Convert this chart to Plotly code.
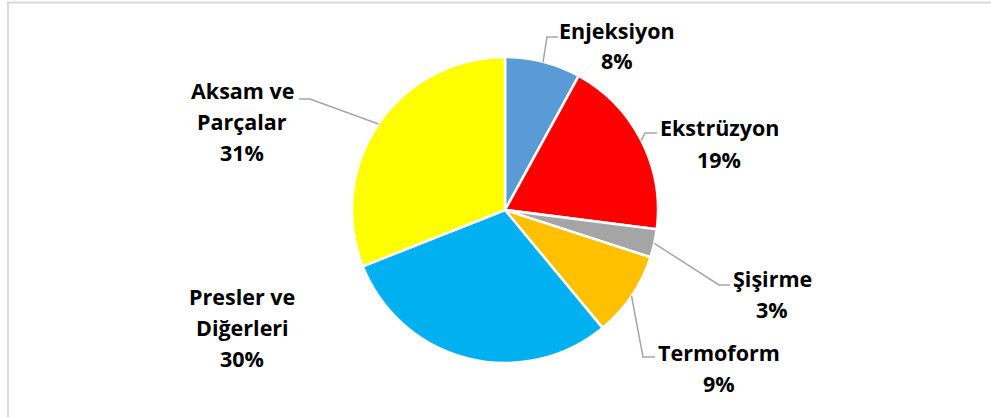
import math
import plotly.graph_objects as go

W, H = 991, 417

labels = ["Enjeksiyon", "Ekstrüzyon", "Şişirme", "Termoform", "Presler ve Diğerleri", "Aksam ve Parçalar"]
values = [8, 19, 3, 9, 30, 31]
colors = ["#5B9BD5", "#FF0000", "#A5A5A5", "#FFC000", "#00B0F0", "#FFFF00"]
# label text lines (name lines, then percent)
label_lines = [
    ["Enjeksiyon"],
    ["Ekstrüzyon"],
    ["Şişirme"],
    ["Termoform"],
    ["Presler ve", "Diğerleri"],
    ["Aksam ve", "Parçalar"],
]

# layout: pie geometry (pixels)
CX, CY, R = 505, 210, 153
# label block centres (x, y of first line) and line spacing
label_pos = [(617, 30), (719, 128), (772, 278), (719, 352), (242, 296), (242, 91)]
LINE_H = 31
# leader line elbows: (elbow point, end point) or None
leaders = [
    ((547, 37), (558, 37)),
    ((645, 133), (657, 133)),
    ((719, 285), (730, 285)),
    ((643, 357), (655, 357)),
    None,
    ((310, 99), (299, 99)),
]

def px(x, y):
    return x / W, 1 - y / H

fig = go.Figure()
fig.add_trace(go.Pie(
    values=values,
    labels=labels,
    marker=dict(colors=colors, line=dict(color="white", width=2.5)),
    sort=False,
    direction="clockwise",
    rotation=0,
    textinfo="none",
    hoverinfo="label+percent",
    showlegend=False,
    domain=dict(x=[(CX - R) / W, (CX + R) / W], y=[(H - CY - R) / H, (H - CY + R) / H]),
))

annotations = []
shapes = []
total = sum(values)
cum = 0
FONT = dict(family="Open Sans", size=21.5, color="#000000")
for i, v in enumerate(values):
    mid = (cum + v / 2) / total * 2 * math.pi
    cum += v
    ax = CX + R * math.sin(mid)
    ay = CY - R * math.cos(mid)
    pct = f"{round(v / total * 100)}%"
    lines = label_lines[i] + [pct]
    lx, ly = label_pos[i]
    for k, t in enumerate(lines):
        x, y = px(lx, ly + k * LINE_H)
        annotations.append(dict(x=x, y=y, xref="paper", yref="paper", text=f"<b>{t}</b>",
                                showarrow=False, xanchor="center", yanchor="middle", font=FONT))
    if leaders[i] is not None:
        (ex, ey), (fx, fy) = leaders[i]
        p0 = px(ax, ay); p1 = px(ex, ey); p2 = px(fx, fy)
        shapes.append(dict(type="path", xref="paper", yref="paper",
                           path=f"M {p0[0]} {p0[1]} L {p1[0]} {p1[1]} L {p2[0]} {p2[1]}",
                           line=dict(color="#A6A6A6", width=1.5)))

# chart frame
b0 = px(8, 2.5); b1 = px(W + 10, H + 10)
shapes.append(dict(type="rect", xref="paper", yref="paper", x0=b0[0], y0=b1[1], x1=b1[0], y1=b0[1],
                   line=dict(color="#D9D9D9", width=2), layer="below"))

fig.update_layout(
    width=W, height=H,
    margin=dict(l=0, r=0, t=0, b=0),
    paper_bgcolor="white", plot_bgcolor="white",
    annotations=annotations, shapes=shapes,
)
fig.write_html("out.html", config={"displayModeBar": False},
               post_script="document.body.style.margin='0';document.body.style.overflow='hidden';")
